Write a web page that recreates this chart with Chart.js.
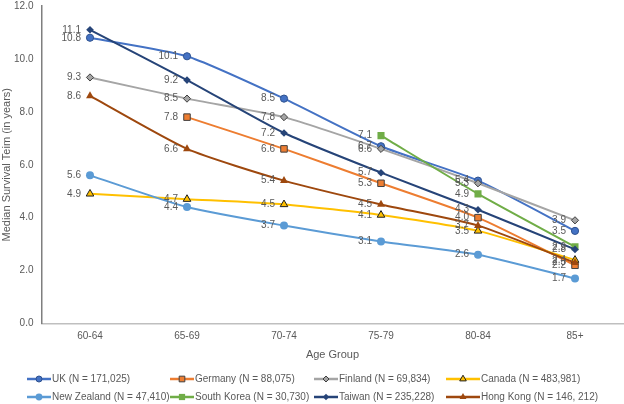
<!DOCTYPE html>
<html><head><meta charset="utf-8">
<script src="https://cdn.jsdelivr.net/npm/chart.js@4.4.1/dist/chart.umd.min.js"></script>
<style>html,body{margin:0;padding:0;background:#fff}</style>
</head><body>
<canvas id="c" width="624" height="404"></canvas>
<script>
const categories = ['60-64', '65-69', '70-74', '75-79', '80-84', '85+'];
const seriesNames = ['UK (N = 171,025)', 'Germany (N = 88,075)', 'Finland (N = 69,834)', 'Canada (N = 483,981)',
  'New Zealand (N = 47,410)', 'South Korea (N = 30,730)', 'Taiwan (N = 235,228)', 'Hong Kong (N = 146, 212)'];
const ukValues = [10.8, 10.1, 8.5, 6.7, 5.4, 3.5];
const germanyValues = [null, 7.8, 6.6, 5.3, 4.0, 2.2];
const finlandValues = [9.3, 8.5, 7.8, 6.6, 5.3, 3.9];
const canadaValues = [4.9, 4.7, 4.5, 4.1, 3.5, 2.4];
const newZealandValues = [5.6, 4.4, 3.7, 3.1, 2.6, 1.7];
const southKoreaValues = [null, null, null, 7.1, 4.9, 2.9];
const taiwanValues = [11.1, 9.2, 7.2, 5.7, 4.3, 2.8];
const hongKongValues = [8.6, 6.6, 5.4, 4.5, 3.7, 2.3];
const yTickValues = [0, 2, 4, 6, 8, 10, 12];

const seriesValues = [ukValues, germanyValues, finlandValues, canadaValues,
  newZealandValues, southKoreaValues, taiwanValues, hongKongValues];

const styles = [
  {color: '#4472C4', fill: '#4472C4', border: '#2F528F', shape: 'circle', r: 3.6, bw: 1},
  {color: '#ED7D31', fill: '#ED7D31', border: '#404040', shape: 'rect', r: 4.6, bw: 1},
  {color: '#A5A5A5', fill: '#A5A5A5', border: '#404040', shape: 'rectRot', r: 3.6, bw: 1},
  {color: '#FFC000', fill: '#FFC000', border: '#202020', shape: 'triangle', r: 4.4, bw: 1},
  {color: '#5B9BD5', fill: '#5B9BD5', border: '#5B9BD5', shape: 'circle', r: 4, bw: 0},
  {color: '#70AD47', fill: '#70AD47', border: '#70AD47', shape: 'rect', r: 5, bw: 0},
  {color: '#264478', fill: '#264478', border: '#264478', shape: 'rectRot', r: 3.8, bw: 0},
  {color: '#9E480E', fill: '#9E480E', border: '#9E480E', shape: 'triangle', r: 4.6, bw: 0}
];

const FONT = '"Liberation Sans", Arial, sans-serif';
const TEXT = '#595959';

const datasets = seriesNames.map((name, i) => ({
  label: name,
  data: seriesValues[i],
  borderColor: styles[i].color,
  backgroundColor: styles[i].fill,
  borderWidth: 2,
  tension: 0.2,
  pointStyle: styles[i].shape,
  pointRadius: styles[i].r,
  pointHoverRadius: styles[i].r,
  pointBackgroundColor: styles[i].fill,
  pointBorderColor: styles[i].border,
  pointBorderWidth: styles[i].bw,
  spanGaps: false,
  order: seriesNames.length - i
}));

const valueLabels = {
  id: 'valueLabels',
  afterDatasetsDraw(chart) {
    const ctx = chart.ctx;
    ctx.save();
    ctx.font = '10px ' + FONT;
    ctx.fillStyle = TEXT;
    ctx.textAlign = 'right';
    ctx.textBaseline = 'middle';
    chart.data.datasets.forEach((ds, i) => {
      const meta = chart.getDatasetMeta(i);
      meta.data.forEach((pt, j) => {
        const v = ds.data[j];
        if (v === null || v === undefined) return;
        ctx.fillText(v.toFixed(1), pt.x - 9, pt.y);
      });
    });
    ctx.restore();
  }
};

function drawMarker(ctx, shape, r, x, y, bw) {
  ctx.beginPath();
  if (shape === 'circle') {
    ctx.arc(x, y, r, 0, Math.PI * 2);
  } else if (shape === 'rect') {
    const s = r * Math.SQRT1_2;
    ctx.rect(x - s, y - s, 2 * s, 2 * s);
  } else if (shape === 'rectRot') {
    ctx.moveTo(x, y - r); ctx.lineTo(x + r, y); ctx.lineTo(x, y + r); ctx.lineTo(x - r, y); ctx.closePath();
  } else if (shape === 'triangle') {
    const w = r * Math.sqrt(3) / 2;
    ctx.moveTo(x, y - r); ctx.lineTo(x + w, y + r / 2); ctx.lineTo(x - w, y + r / 2); ctx.closePath();
  }
  ctx.fill();
  if (bw > 0) { ctx.lineWidth = bw; ctx.stroke(); }
}

const gridLegend = {
  id: 'gridLegend',
  afterDraw(chart) {
    const ctx = chart.ctx;
    const colX = [27, 170, 314, 446];
    const colLen = [24, 24, 24, 34];
    const rowY = [379, 397];
    ctx.save();
    ctx.font = '10px ' + FONT;
    ctx.textAlign = 'left';
    ctx.textBaseline = 'middle';
    chart.data.datasets.forEach((ds, i) => {
      const col = i % 4, row = Math.floor(i / 4);
      const x0 = colX[col], x1 = x0 + colLen[col], y = rowY[row];
      const st = styles[i];
      ctx.strokeStyle = st.color;
      ctx.lineWidth = 2.5;
      ctx.beginPath(); ctx.moveTo(x0, y); ctx.lineTo(x1, y); ctx.stroke();
      ctx.fillStyle = st.fill;
      ctx.strokeStyle = st.border;
      drawMarker(ctx, st.shape, Math.max(3, st.r - 0.6), (x0 + x1) / 2, y, st.bw);
      ctx.fillStyle = TEXT;
      ctx.fillText(ds.label, x1 + 1, y);
    });
    ctx.restore();
  }
};

new Chart(document.getElementById('c'), {
  type: 'line',
  data: { labels: categories, datasets: datasets },
  plugins: [valueLabels, gridLegend],
  options: {
    responsive: false,
    animation: false,
    devicePixelRatio: 1,
    layout: { autoPadding: false, padding: { top: 0, right: 0.5, bottom: 42.5, left: 0 } },
    plugins: { legend: { display: false }, tooltip: { enabled: false } },
    scales: {
      x: {
        type: 'category',
        offset: true,
        grid: { display: false, drawTicks: false },
        border: { display: true, color: '#BFBFBF', width: 1.5 },
        ticks: { color: TEXT, font: { size: 10, family: FONT }, padding: 7 },
        title: { display: true, text: 'Age Group', color: TEXT, font: { size: 11, family: FONT }, padding: { top: 0, bottom: 0 } },
        afterFit(s) { s.height = 38; s.paddingLeft = 0; s.paddingRight = 0; }
      },
      y: {
        min: 0, max: 12,
        grid: { display: false, drawTicks: false },
        border: { display: true, color: '#7F7F7F', width: 1.5 },
        afterBuildTicks(s) { s.ticks = yTickValues.map(v => ({ value: v })); },
        ticks: { color: TEXT, font: { size: 10, family: FONT }, padding: 8, callback: v => Number(v).toFixed(1) },
        title: { display: true, text: 'Median Survival Teim (in years)', color: TEXT, font: { size: 11, family: FONT }, padding: { top: 0, bottom: 0 } },
        afterFit(s) { s.width = 41.5; s.paddingTop = 6; s.paddingBottom = 0; }
      }
    }
  }
});
</script>
</body></html>
